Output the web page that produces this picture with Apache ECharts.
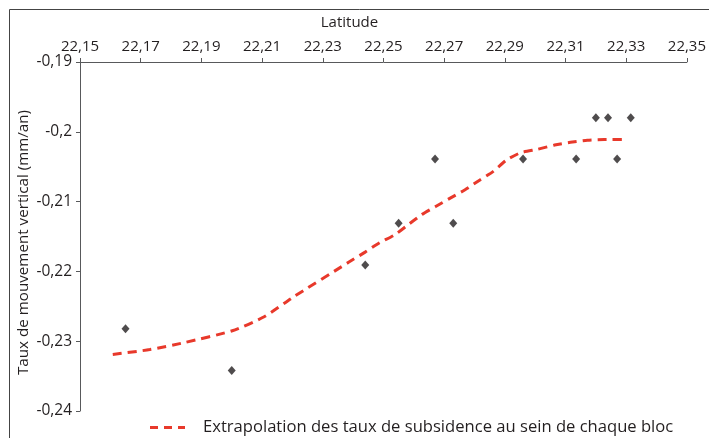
<!DOCTYPE html>
<html>
<head>
<meta charset="utf-8">
<script src="https://cdn.jsdelivr.net/npm/echarts@6/dist/echarts.min.js"></script>
<style>
html,body{margin:0;padding:0;background:#fff;}
#chart{width:709px;height:438px;}
</style>
</head>
<body>
<div id="chart"></div>
<script>
// Tick labels / axis values
const xTicks = [22.15, 22.17, 22.19, 22.21, 22.23, 22.25, 22.27, 22.29, 22.31, 22.33, 22.35];
const yTicks = [-0.24, -0.23, -0.22, -0.21, -0.20, -0.19];

// Measured points (latitude, vertical movement rate mm/an)
const pointLat = [22.165, 22.200, 22.244, 22.255, 22.267, 22.273, 22.296, 22.3135, 22.320, 22.324, 22.327, 22.3315];
const pointVal = [-0.2282, -0.2342, -0.2191, -0.2131, -0.2039, -0.2131, -0.2039, -0.2039, -0.198, -0.198, -0.2039, -0.198];

// Extrapolation curve
const lineLat = [22.1608, 22.173, 22.1844, 22.2002, 22.2107, 22.2202, 22.2385, 22.2441, 22.2487, 22.2536, 22.2579, 22.2625, 22.2672, 22.2720, 22.2769, 22.2818, 22.2861, 22.2907, 22.2952, 22.3008, 22.3064, 22.3116, 22.3172, 22.3228, 22.3300];
const lineVal = [-0.2319, -0.2312, -0.2302, -0.2285, -0.2265, -0.2237, -0.2187, -0.2172, -0.2159, -0.2148, -0.2134, -0.2119, -0.2107, -0.2095, -0.2083, -0.2069, -0.2057, -0.2040, -0.2030, -0.2025, -0.2019, -0.2015, -0.2012, -0.2011, -0.2011];

const lineName = 'Extrapolation des taux de subsidence au sein de chaque bloc';
const FONT = 'Open Sans';
const TXT = '#231f20';
const AX = '#58595b';
const RED = '#e8392b';

const fmt = v => String(Math.round(v * 1000) / 1000).replace('.', ',');

const chart = echarts.init(document.getElementById('chart'), null, {renderer: 'canvas'});
chart.setOption({
  animation: false,
  backgroundColor: '#fff',
  textStyle: {fontFamily: FONT, color: TXT},
  graphic: [{
    type: 'rect',
    shape: {x: 9.5, y: 9.5, width: 800, height: 600},
    style: {fill: 'none', stroke: '#444', lineWidth: 1},
    silent: true
  }],
  grid: {left: 80, right: 19, top: 62, bottom: 27, containLabel: false},
  legend: {
    data: [{name: lineName, icon: 'path://M0,0h8v3h-8z M14,0h8v3h-8z M28,0h7v3h-7z'}],
    left: 150, top: 419, padding: 0,
    itemWidth: 35, itemHeight: 3, itemGap: 0,
    itemStyle: {color: RED},
    textStyle: {fontFamily: FONT, fontSize: 16.6, color: TXT, padding: [0, 0, 0, 13]},
    selectedMode: false
  },
  xAxis: {
    type: 'value', position: 'top',
    min: 22.15, max: 22.35,
    name: 'Latitude', nameLocation: 'middle', nameGap: 32,
    nameTextStyle: {fontFamily: FONT, fontSize: 15, color: TXT, padding: [0, 68, 0, 0]},
    axisLine: {show: true, lineStyle: {color: AX, width: 1}},
    axisTick: {show: true, length: 4, lineStyle: {color: AX}, customValues: xTicks},
    axisLabel: {fontFamily: FONT, fontSize: 15, color: TXT, margin: 8, customValues: xTicks, formatter: fmt},
    splitLine: {show: false}
  },
  yAxis: {
    type: 'value',
    min: -0.24, max: -0.19,
    name: 'Taux de mouvement vertical (mm/an)', nameLocation: 'middle', nameGap: 49, nameRotate: 90,
    nameMoveOverlap: false,
    nameTextStyle: {fontFamily: FONT, fontSize: 15.2, color: TXT, padding: [0, 12, 0, 0]},
    axisLine: {show: true, onZero: false, lineStyle: {color: AX, width: 1}},
    axisTick: {show: true, length: 4, lineStyle: {color: AX}, customValues: yTicks},
    axisLabel: {fontFamily: FONT, fontSize: 15.5, color: TXT, margin: 8, customValues: yTicks, formatter: fmt},
    splitLine: {show: false}
  },
  series: [{
    name: lineName,
    type: 'line',
    data: lineLat.map((x, i) => [x, lineVal[i]]),
    symbol: 'none',
    smooth: 0.2,
    lineStyle: {color: RED, width: 3, type: [9, 6]},
    itemStyle: {color: RED},
    z: 2
  }, {
    name: 'points',
    type: 'scatter',
    data: pointLat.map((x, i) => [x, pointVal[i]]),
    symbol: 'diamond',
    symbolSize: [8, 9],
    itemStyle: {color: TXT},
    z: 3
  }]
});
</script>
</body>
</html>
